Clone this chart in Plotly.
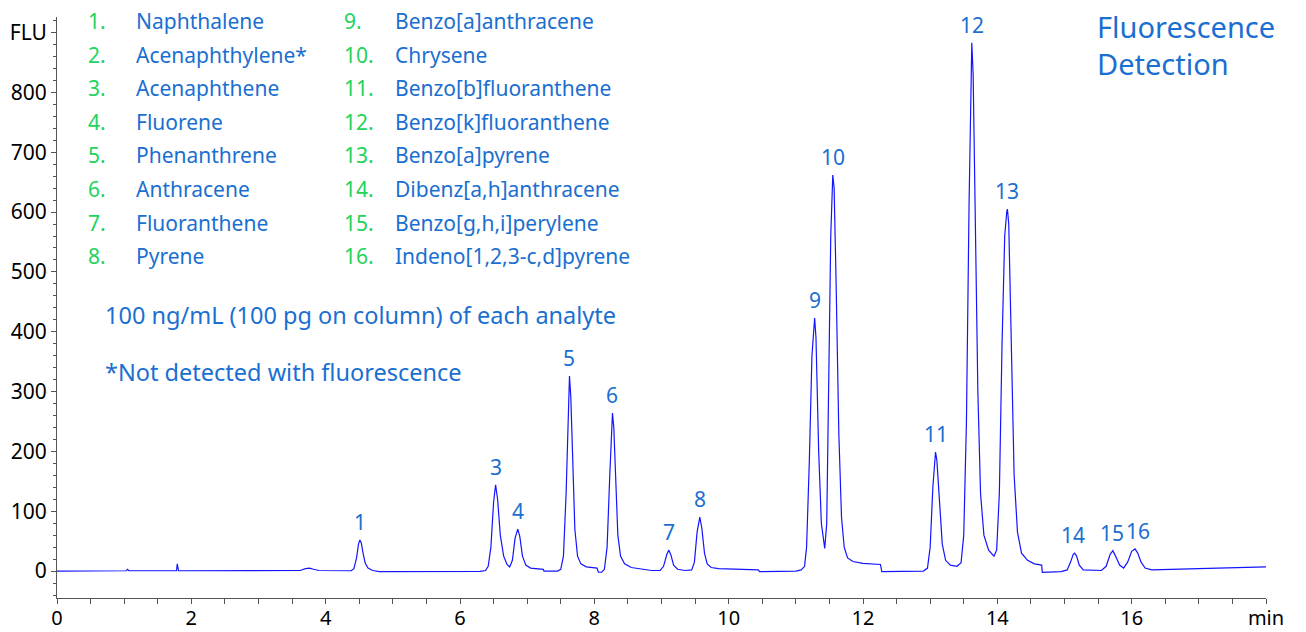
import plotly.graph_objects as go

# ---- chromatogram trace (time in min, signal in FLU) ----
time_min = [
    0.00, 0.50, 1.03, 1.05, 1.07, 1.78, 1.79, 1.81, 3.00, 3.62, 3.70, 3.76, 3.82, 3.90,
    4.38, 4.42, 4.46, 4.49, 4.51, 4.53, 4.56, 4.59, 4.63, 4.70, 4.80, 5.50, 6.30,
    6.38, 6.42, 6.46, 6.50, 6.53, 6.56, 6.60, 6.65, 6.70, 6.74, 6.78, 6.82, 6.86, 6.89,
    6.93, 6.98, 7.05, 7.15, 7.24, 7.25, 7.45, 7.50, 7.54, 7.58, 7.61, 7.63, 7.65, 7.68,
    7.71, 7.75, 7.80, 7.88, 7.95, 8.04, 8.06, 8.11, 8.15, 8.19, 8.23, 8.26, 8.27, 8.29,
    8.32, 8.35, 8.39, 8.45, 8.55, 8.70, 8.85, 8.98, 9.03, 9.08, 9.11, 9.14, 9.18, 9.24,
    9.35, 9.45, 9.49, 9.53, 9.57, 9.60, 9.64, 9.68, 9.74, 9.85, 10.10, 10.44, 10.46,
    11.00, 11.08, 11.13, 11.16, 11.20, 11.24, 11.27, 11.28, 11.30, 11.34, 11.38, 11.43,
    11.46, 11.49, 11.52, 11.55, 11.57, 11.60, 11.64, 11.68, 11.72, 11.77, 11.85, 12.00,
    12.26, 12.28, 12.90, 12.96, 13.00, 13.04, 13.07, 13.08, 13.10, 13.14, 13.18, 13.23,
    13.30, 13.40, 13.46, 13.50, 13.54, 13.58, 13.61, 13.62, 13.64, 13.67, 13.71, 13.75,
    13.80, 13.87, 13.95, 13.99, 14.03, 14.07, 14.11, 14.14, 14.15, 14.17, 14.21, 14.25,
    14.30, 14.36, 14.45, 14.55, 14.66, 14.67, 14.95, 15.04, 15.09, 15.13, 15.15, 15.18,
    15.22, 15.28, 15.55, 15.62, 15.68, 15.72, 15.76, 15.82, 15.88, 15.94, 16.00, 16.05,
    16.09, 16.14, 16.20, 16.30, 17.00, 18.00,
]
signal_flu = [
    0, 0.5, 0.5, 3, 0.5, 0.5, 12, 0.5, 0.5, 1, 4, 5, 3, 1,
    0.5, 4, 22, 46, 52, 47, 28, 13, 5, 1, -1, -1, -0.5,
    1, 8, 40, 115, 144, 120, 60, 25, 11, 7, 18, 55, 70, 58,
    25, 10, 5, 4, 3, 0, 0, 3, 25, 130, 280, 326, 290, 170,
    70, 25, 12, 7, 6, 5, -2, -2, 3, 40, 160, 250, 264, 240,
    140, 60, 25, 12, 6, 3, 1, 1, 8, 28, 35, 27, 10, 3,
    1, 2, 15, 65, 90, 72, 30, 12, 6, 4, 3, 2, -1,
    0, 2, 8, 40, 180, 360, 420, 423, 390, 200, 80, 38,
    80, 300, 560, 662, 640, 480, 230, 90, 40, 22, 16, 13,
    11, -1, 0, 5, 40, 140, 195, 199, 185, 110, 45, 18,
    10, 8, 14, 60, 250, 620, 860, 883, 830, 600, 300, 130,
    60, 35, 25, 35, 130, 380, 560, 600, 605, 580, 380, 160,
    65, 30, 18, 12, 10, -2, -1, 2, 15, 28, 30, 25,
    10, 2, 1, 8, 28, 34, 25, 10, 5, 15, 33, 37,
    30, 15, 5, 2, 4, 7,
]

# ---- peak labels ----
peak_numbers = ["1", "3", "4", "5", "6", "7", "8", "9", "10", "11", "12", "13", "14", "15", "16"]
peak_times = [4.51, 6.53, 6.86, 7.63, 8.27, 9.11, 9.57, 11.28, 11.55, 13.08, 13.62, 14.15, 15.13, 15.70, 16.10]
peak_heights = [52, 144, 70, 326, 264, 35, 90, 423, 662, 199, 883, 605, 30, 34, 37]

# ---- compound list ----
compound_numbers = [f"{i}." for i in range(1, 17)]
compound_names = [
    "Naphthalene", "Acenaphthylene*", "Acenaphthene", "Fluorene", "Phenanthrene",
    "Anthracene", "Fluoranthene", "Pyrene", "Benzo[a]anthracene", "Chrysene",
    "Benzo[b]fluoranthene", "Benzo[k]fluoranthene", "Benzo[a]pyrene",
    "Dibenz[a,h]anthracene", "Benzo[g,h,i]perylene", "Indeno[1,2,3-c,d]pyrene",
]

# ---- axis ticks ----
x_tickvals = [0, 2, 4, 6, 8, 10, 12, 14, 16, 18]
x_ticktext = ["0", "2", "4", "6", "8", "10", "12", "14", "16", "min"]
y_tickvals = [0, 100, 200, 300, 400, 500, 600, 700, 800, 900]
y_ticktext = ["0", "100", "200", "300", "400", "500", "600", "700", "800", "FLU"]

notes = ["100 ng/mL (100 pg on column) of each analyte", "*Not detected with fluorescence"]
title_lines = ["Fluorescence", "Detection"]

BLUE_TEXT = "#1a6fd0"
GREEN_TEXT = "#22d35c"
FONT = "Noto Sans"

# page geometry (the html body adds an 8 px margin around the figure)
PAGE_W, PAGE_H, BODY = 1306, 632, 8
PLOT_L, PLOT_R, PLOT_T, PLOT_B = 57, 1266, 17, 598
W, H = PAGE_W - BODY, PAGE_H - BODY
L, T = PLOT_L - BODY, PLOT_T - BODY
R, B = W + BODY - PLOT_R, H + BODY - PLOT_B
PW, PH = PLOT_R - PLOT_L, PLOT_B - PLOT_T


def px(xp):
    return (xp - PLOT_L) / PW


def py(yp):
    return (PLOT_B - yp) / PH


fig = go.Figure()
fig.add_trace(go.Scatter(
    x=time_min, y=signal_flu, mode="lines",
    line=dict(color="#1414ff", width=1.2),
    hoverinfo="skip", showlegend=False,
))

annotations = []
for n, t, h in zip(peak_numbers, peak_times, peak_heights):
    annotations.append(dict(
        x=t, y=h, xref="x", yref="y", text=n, showarrow=False,
        xanchor="center", yanchor="bottom", yshift=2,
        font=dict(family=FONT, size=21, color=BLUE_TEXT),
    ))

row_y0, row_dy = 21, 33.6
for i, (num, name) in enumerate(zip(compound_numbers, compound_names)):
    col = i // 8
    row = i % 8
    yc = row_y0 + row * row_dy
    num_x = 88 if col == 0 else 344
    name_x = 136 if col == 0 else 395
    annotations.append(dict(
        x=px(num_x), y=py(yc), xref="paper", yref="paper", text=num, showarrow=False,
        xanchor="left", yanchor="middle", borderpad=0, borderwidth=0,
        font=dict(family=FONT, size=21, color=GREEN_TEXT),
    ))
    annotations.append(dict(
        x=px(name_x), y=py(yc), xref="paper", yref="paper", text=name, showarrow=False,
        xanchor="left", yanchor="middle", borderpad=0, borderwidth=0,
        font=dict(family=FONT, size=21, color=BLUE_TEXT),
    ))

for note, yc in zip(notes, [315, 372]):
    annotations.append(dict(
        x=px(103), y=py(yc), xref="paper", yref="paper", text=note, showarrow=False,
        xanchor="left", yanchor="middle",
        font=dict(family=FONT, size=23.5, color=BLUE_TEXT),
    ))

for line, yc in zip(title_lines, [27, 64]):
    annotations.append(dict(
        x=px(1097), y=py(yc), xref="paper", yref="paper", text=line, showarrow=False,
        xanchor="left", yanchor="middle", borderpad=0, borderwidth=0,
        font=dict(family=FONT, size=29, color=BLUE_TEXT),
    ))

axis_common = dict(
    showgrid=False, zeroline=False, showline=True, linecolor="#555555", linewidth=1,
    ticks="outside", ticklen=5, tickcolor="#555555", tickwidth=1, automargin=False,
)

fig.update_layout(
    width=W, height=H,
    margin=dict(l=L, r=R, t=T, b=B, pad=0, autoexpand=False),
    paper_bgcolor="white", plot_bgcolor="white",
    xaxis=dict(range=[0, 18], tickvals=x_tickvals, ticktext=x_ticktext,
               ticklabelstandoff=-3,
               tickfont=dict(family=FONT, size=20, color="#000000"),
               minor=dict(dtick=0.5, tick0=0, ticks="outside", ticklen=5, tickcolor="#555555"),
               **axis_common),
    yaxis=dict(range=[-45, 926], tickvals=y_tickvals, ticktext=y_ticktext,
               tickfont=dict(family=FONT, size=21, color="#000000"),
               minor=dict(dtick=20, tick0=0, ticks="outside", ticklen=3, tickcolor="#555555"),
               **axis_common),
    annotations=annotations,
)

fig.write_html("out.html")
